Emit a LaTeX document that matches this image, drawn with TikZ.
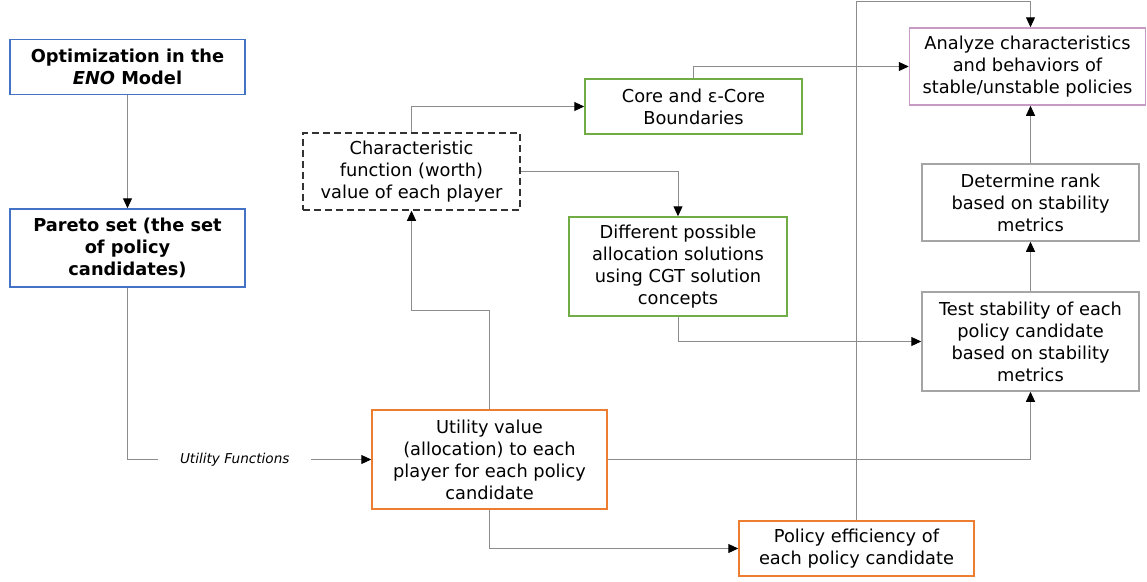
\documentclass[tikz,border=0pt]{standalone}
\usepackage{fontspec}
\setmainfont{DejaVu Sans}
\usetikzlibrary{arrows.meta}
\definecolor{boxblue}{HTML}{4472C4}
\definecolor{boxgreen}{HTML}{70AD47}
\definecolor{boxorange}{HTML}{ED7D31}
\definecolor{boxpink}{HTML}{C89BC4}
\definecolor{boxgray}{HTML}{A5A5A5}
\definecolor{linegray}{HTML}{8C8C8C}
\tikzset{
  box/.style={draw, line width=1.5pt, fill=white, align=center, inner sep=0pt,
    font=\fontsize{17.8}{22}\selectfont},
  conn/.style={draw=linegray, line width=1pt, -{Triangle[black,length=10pt,width=9pt]}}
}
\begin{document}
\begin{tikzpicture}[x=1pt,y=-1pt]
  \useasboundingbox (0,0) rectangle (1147,581);
  % boxes
  \node [box, draw=boxblue, minimum width=235, minimum height=55, font=\fontsize{17.8}{22}\selectfont\bfseries]
    (opt) at (127.5,67) {Optimization in the\\\textit{ENO} Model};
  \node [box, draw=boxblue, minimum width=235, minimum height=78, font=\fontsize{17.8}{22}\selectfont\bfseries]
    (pareto) at (127.5,248) {Pareto set (the set\\of policy\\candidates)};
  \node [box, draw=boxorange, minimum width=235, minimum height=99]
    (util) at (489.5,459.5) {Utility value\\(allocation) to each\\player for each policy\\candidate};
  \node [box, draw=black!80, dashed, dash pattern=on 7pt off 4pt, minimum width=217, minimum height=77]
    (char) at (411.5,171.5) {Characteristic\\function (worth)\\value of each player};
  \node [box, draw=boxgreen, minimum width=217, minimum height=55]
    (core) at (693.5,106.5) {Core and ε-Core\\Boundaries};
  \node [box, draw=boxgreen, minimum width=218, minimum height=99]
    (diff) at (678,266.5) {Different possible\\allocation solutions\\using CGT solution\\concepts};
  \node [box, draw=boxpink, minimum width=236, minimum height=77]
    (analyze) at (1027.5,66.5) {Analyze characteristics\\and behaviors of\\stable/unstable policies};
  \node [box, draw=boxgray, minimum width=217, minimum height=77]
    (rank) at (1030.5,202.5) {Determine rank\\based on stability\\metrics};
  \node [box, draw=boxgray, minimum width=217, minimum height=99]
    (test) at (1030.5,341.5) {Test stability of each\\policy candidate\\based on stability\\metrics};
  \node [box, draw=boxorange, minimum width=235, minimum height=55]
    (eff) at (856.5,548.5) {Policy efficiency of\\each policy candidate};
  % connectors
  \draw [conn] (opt) -- (pareto);
  \draw [conn] (pareto.south) |- node [pos=0.72, fill=white, inner xsep=22pt,
    font=\fontsize{13.6}{16}\selectfont\itshape] {Utility Functions} (util.west);
  \draw [conn] (util.north) -- (util.north |- 0,310) -| (char.south);
  \draw [conn] (char.north) |- (core.west);
  \draw [conn] (char.east) -| (diff.north);
  \draw [conn] (core.north) |- (analyze.west);
  \draw [conn] (diff.south) |- (test.west);
  \draw [conn] (util.east) -| (test.south);
  \draw [conn] (test) -- (rank);
  \draw [conn] (rank.north) -- (rank.north |- analyze.south);
  \draw [conn] (util.south) |- (eff.west);
  \draw [conn] (eff.north) -- (eff.north |- 0,1) -| (rank.north |- analyze.north);
\end{tikzpicture}
\end{document}
